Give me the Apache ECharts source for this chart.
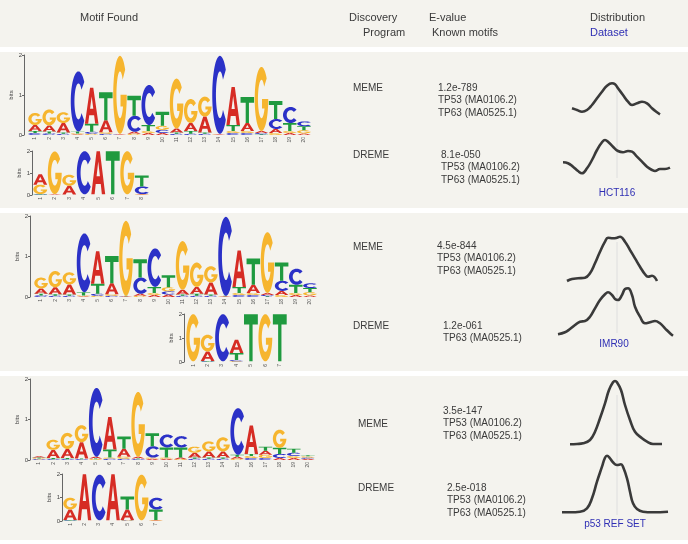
<!DOCTYPE html>
<html><head><meta charset="utf-8">
<script src="https://cdn.jsdelivr.net/npm/echarts@6/dist/echarts.min.js"></script>
<style>html,body{margin:0;padding:0;background:#fff}#c{width:688px;height:544px}</style>
</head><body><div id="c"></div><script>
// ================= DATA =================
// Sequence-logo letter heights (bits) per motif position
const meme1A = [0.15,0.15,0.24,0.02,0.9,0.3,0.01,0.05,0.05,0.05,0.1,0.2,0.4,0.01,0.95,0.2,0.05,0.1,0.05,0.04];
const meme1C = [0.05,0.04,0.03,1.5,0.05,0.03,0.01,0.4,1.0,0.08,0.03,0.03,0.03,1.95,0.05,0.05,0.03,0.25,0.4,0.12];
const meme1G = [0.3,0.4,0.27,0.02,0.03,0.04,1.95,0.03,0.05,0.1,1.25,0.6,0.5,0.01,0.05,0.05,1.6,0.05,0.05,0.08];
const meme1T = [0.05,0.05,0.03,0.05,0.2,0.7,0.01,0.5,0.15,0.35,0.03,0.07,0.03,0.01,0.15,0.65,0.02,0.45,0.2,0.1];

const dreme1A = [0.47,0.02,0.4,0.01,1.96,0.01,0.01,0.02];
const dreme1C = [0.02,0.01,0.01,1.96,0.01,0.01,0.01,0.35];
const dreme1G = [0.43,1.94,0.5,0.01,0.01,0.01,1.96,0.02];
const dreme1T = [0.02,0.01,0.01,0.01,0.01,1.96,0.01,0.5];

const meme2A = [0.13,0.17,0.25,0.02,0.8,0.27,0.01,0.05,0.05,0.06,0.12,0.17,0.3,0.01,0.9,0.2,0.05,0.1,0.05,0.04];
const meme2C = [0.04,0.03,0.03,1.45,0.05,0.03,0.01,0.4,0.95,0.08,0.03,0.03,0.03,1.95,0.05,0.05,0.03,0.25,0.4,0.12];
const meme2G = [0.27,0.4,0.3,0.02,0.03,0.04,1.85,0.03,0.05,0.1,1.2,0.6,0.4,0.01,0.05,0.05,1.5,0.05,0.05,0.08];
const meme2T = [0.04,0.04,0.03,0.08,0.25,0.67,0.01,0.45,0.15,0.3,0.03,0.05,0.03,0.01,0.15,0.65,0.02,0.45,0.2,0.1];

const dreme2A = [0.01,0.4,0.01,0.55,0.01,0.01,0.01];
const dreme2C = [0.01,0.02,1.96,0.05,0.01,0.01,0.01];
const dreme2G = [1.96,0.7,0.01,0.03,0.01,1.96,0.01];
const dreme2T = [0.01,0.02,0.01,0.3,1.96,0.01,1.96];

const meme3A = [0.03,0.2,0.22,0.4,0.04,0.8,0.2,0.04,0.03,0.03,0.04,0.12,0.15,0.15,0.05,0.7,0.1,0.05,0.05,0.03];
const meme3C = [0.02,0.02,0.02,0.02,1.7,0.03,0.03,0.02,0.28,0.32,0.28,0.03,0.03,0.03,1.15,0.05,0.05,0.1,0.08,0.03];
const meme3G = [0.02,0.25,0.4,0.42,0.02,0.03,0.05,1.6,0.03,0.03,0.02,0.15,0.25,0.35,0.03,0.05,0.08,0.45,0.05,0.03];
const meme3T = [0.02,0.03,0.03,0.02,0.02,0.2,0.3,0.02,0.32,0.25,0.25,0.03,0.03,0.03,0.05,0.05,0.1,0.15,0.1,0.03];

const dreme3A = [0.45,1.96,0.01,1.96,0.45,0.01,0.02];
const dreme3C = [0.02,0.01,1.94,0.01,0.02,0.01,0.5];
const dreme3G = [0.5,0.01,0.01,0.01,0.02,1.94,0.02];
const dreme3T = [0.02,0.01,0.01,0.01,0.55,0.01,0.45];

// Distribution curves: [position offset, density (a.u.)]
const distHCT116Meme = [[-45,9.7],[-40,8],[-35,6.3],[-30,8],[-25,13],[-20,19.7],[-15,26.3],[-10,32.3],[-5,34.7],[-2,33.7],[1,29.7],[6,23],[11,16.3],[15,13],[20,14.7],[25,16.3],[30,14.7],[35,9.7],[40,5.7],[43,3.7]];
const distHCT116Dreme = [[-54,13.7],[-49,12.7],[-44,9.3],[-39,5],[-35,2.7],[-30,7.7],[-25,16],[-20,26],[-15,33.7],[-12,36],[-9,34.3],[-4,29.3],[1,25],[6,23.7],[11,25],[15,24.3],[20,19.3],[25,14.3],[30,9.3],[35,6],[38,5],[43,7],[48,7],[53,8.3]];
const distIMR90Meme = [[-50,3],[-45,5],[-39,5.7],[-32,6.3],[-27,10.7],[-22,20.7],[-17,32.3],[-12,42.3],[-9,46.3],[-4,45.7],[0,46.3],[3,47.3],[8,42.3],[13,34],[18,25.7],[23,17.3],[28,9.7],[31,7.3],[35,8.3],[40,3]];
const distIMR90Dreme = [[-59,3.7],[-52,5.7],[-47,9],[-42,13],[-37,16.3],[-32,17],[-27,21.3],[-22,29.7],[-17,38],[-12,43.7],[-9,45.7],[-5,43],[-2,39],[1,38],[5,43],[8,49],[11,49.7],[15,43],[18,31.3],[23,21.3],[28,14.7],[33,15.7],[38,17],[43,14.7],[48,9.7],[53,4.7],[56,2.3]];
const distP53Meme = [[-47,1.7],[-40,2],[-34,2.7],[-27,6],[-22,14.3],[-17,27.7],[-12,42.7],[-8,56],[-4,63.7],[-2,65],[0,63.7],[4,56],[8,41],[13,26],[18,14.3],[25,7.7],[30,4.3],[36,2],[45,2]];
const distP53Dreme = [[-55,1.7],[-47,1.7],[-37,2.3],[-30,5.7],[-25,15.7],[-20,32.3],[-15,47.3],[-12,56.3],[-10,58.3],[-7,55.7],[-4,51.7],[0,49],[4,49.7],[6,47.3],[10,35.7],[13,22.3],[16,10.7],[20,5],[26,2.3],[36,1.7],[51,2.3]];

// Table text
const headers = ['Motif Found','Discovery','Program','E-value','Known motifs','Distribution','Dataset'];
const programs = ['MEME','DREME','MEME','DREME','MEME','DREME'];
const evalues = ['1.2e-789','8.1e-050','4.5e-844','1.2e-061','3.5e-147','2.5e-018'];
const knownMotifs = [
  ['TP53 (MA0106.2)','TP63 (MA0525.1)'],
  ['TP53 (MA0106.2)','TP63 (MA0525.1)'],
  ['TP53 (MA0106.2)','TP63 (MA0525.1)'],
  ['TP63 (MA0525.1)'],
  ['TP53 (MA0106.2)','TP63 (MA0525.1)'],
  ['TP53 (MA0106.2)','TP63 (MA0525.1)']
];
const datasets = ['HCT116','IMR90','p53 REF SET'];

// ================= STYLE / LAYOUT =================
const FONT = '"Liberation Sans", Arial, Helvetica, sans-serif';
const TXT = '#3a3a3a', BLUE = '#2f2fb4', BEIGE = '#f4f3ee';
const COLORS = {A:'#d62c24', C:'#2b31c7', G:'#f6b52e', T:'#1f9a3f'};

function arcPts(cx,cy,rx,ry,a0,a1,n){
  const p=[]; for(let i=0;i<=n;i++){const a=(a0+(a1-a0)*i/n)*Math.PI/180; p.push([cx+rx*Math.cos(a), cy-ry*Math.sin(a)]);} return p;
}
function poly(pts){ return 'M'+pts.map(p=>p[0].toFixed(2)+','+p[1].toFixed(2)).join(' L')+' Z'; }
const GLYPH = {
  A: 'M0,100 L38,0 L62,0 L100,100 L76,100 L68,76 L32,76 L24,100 Z M38,58 L62,58 L50,24 Z',
  T: 'M0,0 L100,0 L100,22 L62,22 L62,100 L38,100 L38,22 L0,22 Z',
  C: poly(arcPts(50,50,50,50,40,320,56).concat(arcPts(50,50,26,30,320,40,56))),
  G: poly(arcPts(50,50,50,50,40,360,64).concat([[54,50],[54,65]]).concat(arcPts(50,50,26,30,330,40,56)))
};

function stackData(A,C,G,T){
  const out=[];
  for(let i=0;i<A.length;i++){
    const items=[[0,A[i]],[1,C[i]],[2,G[i]],[3,T[i]]].sort((a,b)=>a[1]-b[1]);
    let base=0;
    items.forEach(([li,h])=>{ out.push([i, base, base+h, li]); base+=h; });
  }
  return out;
}
function renderLetter(params, api){
  const i=api.value(0), y0=api.value(1), y1=api.value(2), li=api.value(3);
  const top=api.coord([i,y1]), bot=api.coord([i,y0]);
  const bw=api.size([1,0])[0];
  const h=bot[1]-top[1]; if(h<0.4) return;
  const L='ACGT'[li];
  return {type:'path', shape:{pathData:GLYPH[L], x:top[0]-bw/2+0.3, y:top[1], width:bw-0.6, height:h, layout:'cover'}, style:{fill:COLORS[L]}};
}

const logos = [
  {A:meme1A,C:meme1C,G:meme1G,T:meme1T, left:28, top:55, width:283, height:80, off:4, gap:9},
  {A:dreme1A,C:dreme1C,G:dreme1G,T:dreme1T, left:33, top:151, width:116, height:44, off:1, gap:9},
  {A:meme2A,C:meme2C,G:meme2G,T:meme2T, left:34, top:216, width:283, height:81, off:4, gap:9},
  {A:dreme2A,C:dreme2C,G:dreme2G,T:dreme2T, left:186, top:314, width:101, height:48, off:2, gap:9},
  {A:meme3A,C:meme3C,G:meme3G,T:meme3T, left:32, top:379, width:283, height:81, off:2, gap:9},
  {A:dreme3A,C:dreme3C,G:dreme3G,T:dreme3T, left:63, top:474, width:100, height:47, off:1, gap:9}
];
const curves = [
  {d:distHCT116Meme, top:78, h:40},
  {d:distHCT116Dreme, top:136, h:40, line:[-2,88]},
  {d:distIMR90Meme, top:234, h:50},
  {d:distIMR90Dreme, top:288, h:50, line:[5,96]},
  {d:distP53Meme, top:376, h:70},
  {d:distP53Dreme, top:450, h:64, line:[-1,119]}
];

const grid=[], xAxis=[], yAxis=[], series=[];
logos.forEach((lg,k)=>{
  grid.push({left:lg.left, top:lg.top, width:lg.width, height:lg.height});
  xAxis.push({gridIndex:k, type:'category', data:lg.A.map((_,i)=>String(i+1)), boundaryGap:true,
    axisLine:{show:false}, axisTick:{show:false},
    axisLabel:{rotate:90, fontSize:5, color:'#555', margin:2, interval:0, fontFamily:FONT}});
  yAxis.push({gridIndex:k, type:'value', min:0, max:2, interval:1, offset:lg.off,
    axisLine:{show:true, lineStyle:{color:'#666', width:1}},
    axisTick:{show:true, length:2, lineStyle:{color:'#666'}},
    axisLabel:{fontSize:6, color:'#444', margin:2, fontFamily:FONT},
    splitLine:{show:false},
    name:'bits', nameLocation:'middle', nameGap:lg.gap, nameRotate:90,
    nameTextStyle:{fontSize:6, color:'#444', fontFamily:FONT}});
  series.push({type:'custom', xAxisIndex:k, yAxisIndex:k, renderItem:renderLetter,
    data:stackData(lg.A,lg.C,lg.G,lg.T), encode:{x:0,y:2}, silent:true});
});
curves.forEach((cv,j)=>{
  const k=logos.length+j;
  grid.push({left:557, width:120, top:cv.top, height:cv.h});
  xAxis.push({gridIndex:k, type:'value', min:-60, max:60, show:false});
  yAxis.push({gridIndex:k, type:'value', min:0, max:cv.h, show:false});
  if(cv.line){
    series.push({type:'line', xAxisIndex:k, yAxisIndex:k, data:[[0,cv.line[0]],[0,cv.line[1]]],
      symbol:'none', clip:false, z:1, lineStyle:{color:'#dedede', width:1}, silent:true});
  }
  series.push({type:'line', xAxisIndex:k, yAxisIndex:k, data:cv.d, smooth:0.45, showSymbol:false, symbol:'none',
    clip:false, z:3, lineStyle:{color:'#3a3a3a', width:2.6}, silent:true});
});

// Graphic: backgrounds and table text
function txt(s,x,y,opt){ opt=opt||{};
  return {type:'text', x:x, y:y, z:5, silent:true,
    style:{text:s, font:(opt.size||10)+'px '+FONT, fill:opt.color||TXT,
      textAlign:opt.align||'left', align:opt.align||'left', textVerticalAlign:'middle', verticalAlign:'middle'}};
}
const graphic=[];
[[0,47],[52,208],[213,371],[376,540]].forEach(r=>graphic.push({type:'rect', z:-10, silent:true,
  shape:{x:0,y:r[0],width:688,height:r[1]-r[0]}, style:{fill:BEIGE}}));
graphic.push(txt(headers[0],80,18,{size:11}));
graphic.push(txt(headers[1],349,18,{size:11}));
graphic.push(txt(headers[2],363,33,{size:11}));
graphic.push(txt(headers[3],429,18,{size:11}));
graphic.push(txt(headers[4],432,33,{size:11}));
graphic.push(txt(headers[5],590,18,{size:11}));
graphic.push(txt(headers[6],590,33,{size:11,color:BLUE}));

const rowLayout = [
  {px:353, py:88, ex:438, ey:88},
  {px:353, py:155, ex:441, ey:155},
  {px:353, py:247, ex:437, ey:246},
  {px:353, py:326, ex:443, ey:326},
  {px:358, py:424, ex:443, ey:411},
  {px:358, py:488, ex:447, ey:488}
];
const LH = 12.5;
programs.forEach((p,i)=>{
  const L=rowLayout[i];
  graphic.push(txt(p,L.px,L.py));
  graphic.push(txt(evalues[i],L.ex,L.ey));
  knownMotifs[i].forEach((m,j)=>graphic.push(txt(m,L.ex,L.ey+LH*(j+1))));
});
const dsLayout=[[617,193],[614,344],[615,524]];
datasets.forEach((d,i)=>graphic.push(txt(d,dsLayout[i][0],dsLayout[i][1],{align:'center',color:BLUE})));

const chart = echarts.init(document.getElementById('c'), null, {renderer:'canvas'});
chart.setOption({animation:false, backgroundColor:'#ffffff', grid, xAxis, yAxis, series, graphic});
</script></body></html>
